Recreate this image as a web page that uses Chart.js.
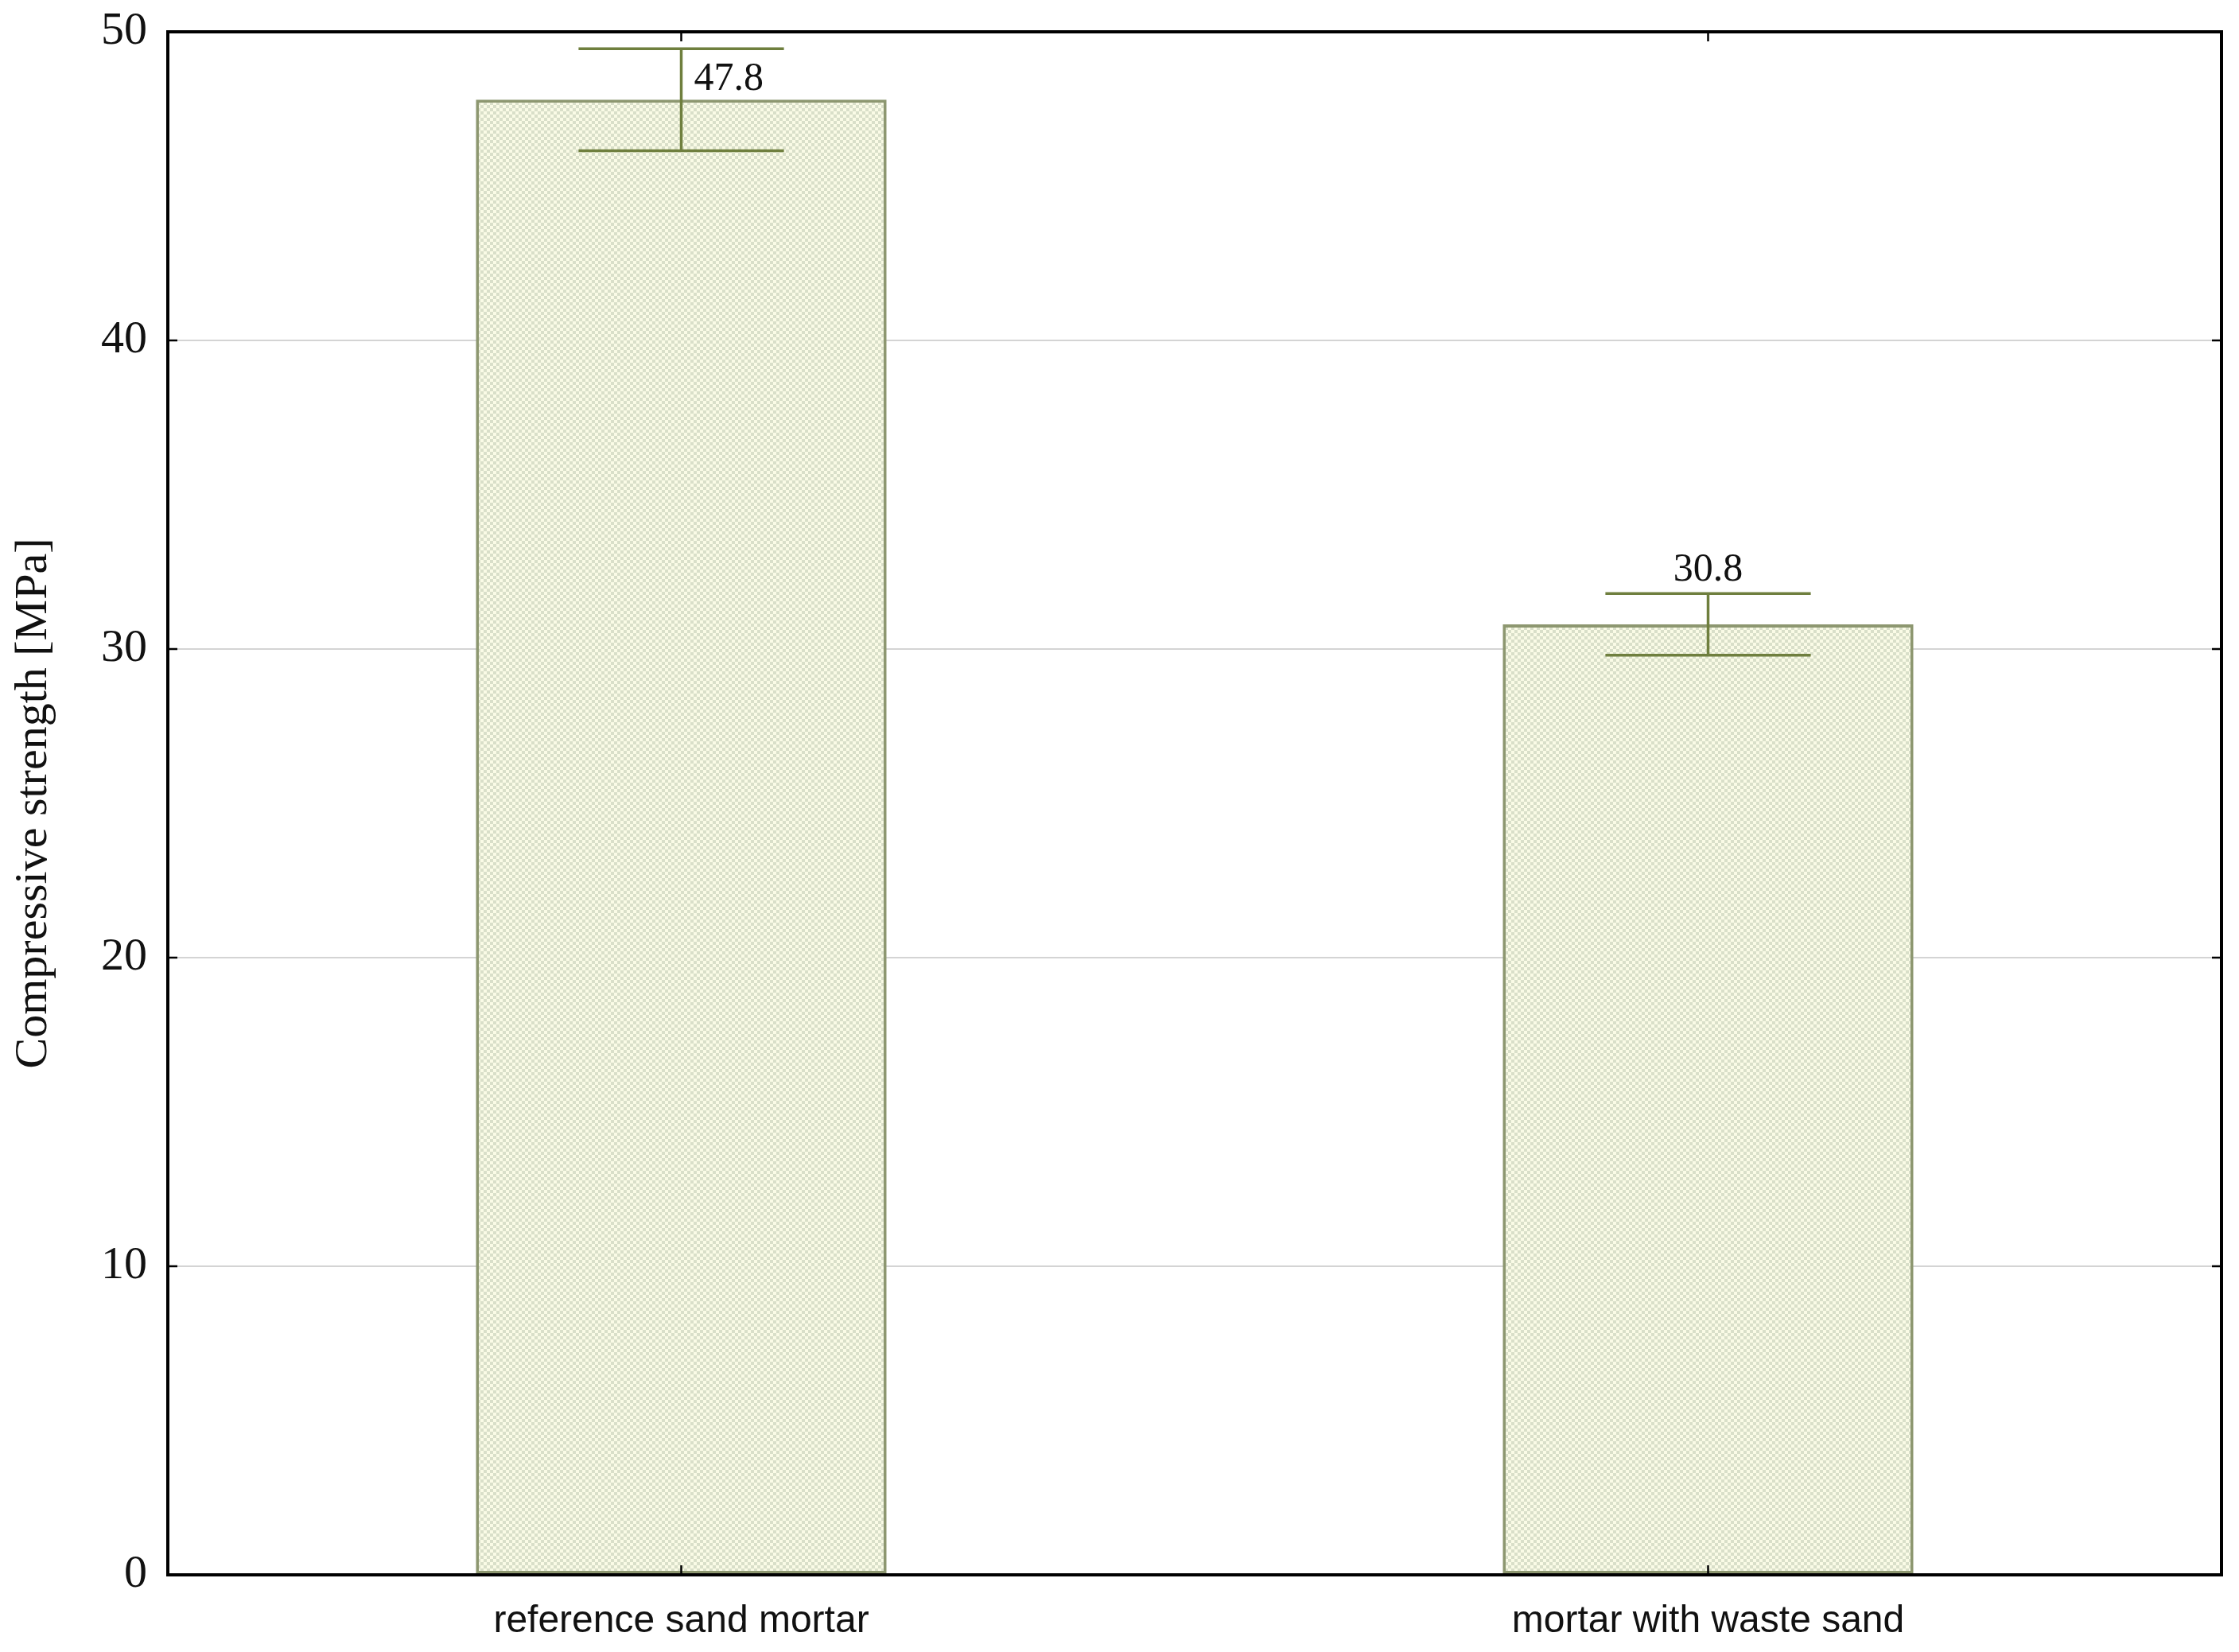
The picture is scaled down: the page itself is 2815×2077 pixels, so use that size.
<!DOCTYPE html>
<html>
<head>
<meta charset="utf-8">
<script src="https://cdn.jsdelivr.net/npm/chart.js@4.4.1/dist/chart.umd.min.js"></script>
<style>
  html, body { margin: 0; padding: 0; background: #fff; }
  #wrap { width: 2815px; height: 2077px; }
</style>
</head>
<body>
<div id="wrap"><canvas id="canvas"></canvas></div>
<script>
const categories = ['reference sand mortar', 'mortar with waste sand']
const strength = [47.8, 30.8]
const errors = [1.65, 1.0]
const yTicks = [0, 10, 20, 30, 40, 50]

// checkered fill like the original bars
function checker() {
  const c = document.createElement('canvas')
  c.width = 8; c.height = 8
  const g = c.getContext('2d')
  g.fillStyle = '#fafbe6'
  g.fillRect(0, 0, 8, 8)
  g.fillStyle = '#d9dfc9'
  g.fillRect(0, 0, 4, 4)
  g.fillRect(4, 4, 4, 4)
  return g.createPattern(c, 'repeat')
}

const frame = {
  id: 'frame',
  afterDatasetsDraw(chart) {
    const ctx = chart.ctx
    const a = chart.chartArea
    const x = chart.scales.x, y = chart.scales.y
    ctx.save()
    // error bars + value labels
    const meta = chart.getDatasetMeta(0)
    meta.data.forEach((bar, i) => {
      const hi = y.getPixelForValue(strength[i] + errors[i])
      const lo = y.getPixelForValue(strength[i] - errors[i])
      const half = bar.width / 4
      ctx.strokeStyle = '#6f7f3e'
      ctx.lineWidth = 3.5
      ctx.beginPath()
      ctx.moveTo(bar.x, hi); ctx.lineTo(bar.x, lo)
      ctx.moveTo(bar.x - half, hi); ctx.lineTo(bar.x + half, hi)
      ctx.moveTo(bar.x - half, lo); ctx.lineTo(bar.x + half, lo)
      ctx.stroke()

      ctx.fillStyle = '#111'
      ctx.font = '50px "Liberation Serif"'
      const txt = strength[i].toFixed(1)
      if (hi - 60 < a.top) {
        ctx.textAlign = 'left'
        ctx.textBaseline = 'middle'
        ctx.fillText(txt, bar.x + 16, y.getPixelForValue(strength[i] + errors[i] * 0.4))
      } else {
        ctx.textAlign = 'center'
        ctx.textBaseline = 'alphabetic'
        ctx.fillText(txt, bar.x, hi - 16)
      }
    })
    // inner ticks
    ctx.strokeStyle = '#000'
    ctx.lineWidth = 2.5
    ctx.beginPath()
    categories.forEach((c, i) => {
      const px = x.getPixelForValue(i)
      ctx.moveTo(px, a.bottom); ctx.lineTo(px, a.bottom - 12)
      ctx.moveTo(px, a.top); ctx.lineTo(px, a.top + 12)
    })
    yTicks.forEach(v => {
      const py = y.getPixelForValue(v)
      ctx.moveTo(a.left, py); ctx.lineTo(a.left + 12, py)
      ctx.moveTo(a.right, py); ctx.lineTo(a.right - 12, py)
    })
    ctx.stroke()
    // plot frame
    ctx.lineWidth = 4
    ctx.strokeRect(a.left, a.top, a.right - a.left, a.bottom - a.top)
    ctx.restore()
  }
}

const ctx = document.getElementById('canvas')
new Chart(ctx, {
  type: 'bar',
  data: {
    labels: categories,
    datasets: [{
      data: strength,
      backgroundColor: checker(),
      borderColor: '#8d9770',
      borderWidth: 4,
      borderSkipped: false,
      categoryPercentage: 1,
      barPercentage: 0.4
    }]
  },
  options: {
    responsive: true,
    maintainAspectRatio: false,
    animation: false,
    layout: { padding: { top: 40, right: 22, left: 0, bottom: 0 } },
    plugins: { legend: { display: false }, tooltip: { enabled: false } },
    scales: {
      x: {
        grid: { display: false, drawTicks: false },
        border: { display: false },
        ticks: { color: '#111', padding: 30, font: { family: '"Liberation Sans"', size: 48 } },
        afterFit(s) { s.height = 97; s.paddingLeft = 0; s.paddingRight = 0 }
      },
      y: {
        min: 0,
        max: 50,
        afterBuildTicks(s) { s.ticks = yTicks.map(v => ({ value: v })) },
        grid: { color: '#d4d4d4', lineWidth: 2, drawTicks: false },
        border: { display: false },
        ticks: { color: '#111', padding: 26, font: { family: '"Liberation Serif"', size: 58 } },
        title: {
          display: true,
          text: 'Compressive strength [MPa]',
          color: '#111',
          font: { family: '"Liberation Serif"', size: 58, lineHeight: 1 },
          padding: { top: 14, bottom: 0 }
        },
        afterFit(s) { s.width = 211; s.paddingTop = 0; s.paddingBottom = 0 }
      }
    }
  },
  plugins: [frame]
})
</script>
</body>
</html>
